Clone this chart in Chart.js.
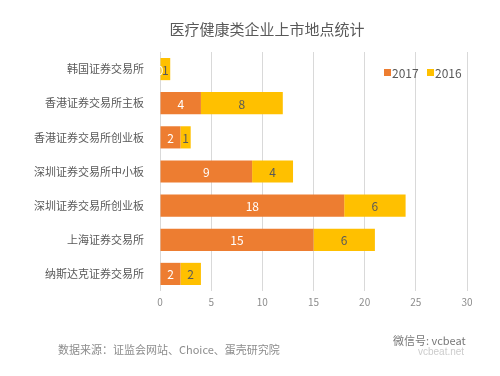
<!DOCTYPE html>
<html>
<head>
<meta charset="utf-8">
<script src="https://cdn.jsdelivr.net/npm/chart.js@4/dist/chart.umd.min.js"></script>
<style>
  html, body { margin: 0; padding: 0; background: #fff; }
  #wrap { position: relative; width: 500px; height: 376px; }
  #title { position: absolute; left: 167px; width: 200px; top: 18px; text-align: center; font: 15px "Noto Sans CJK SC", sans-serif; color: #595959; }
  #source { position: absolute; left: 58px; top: 341px; font: 11px "Noto Sans CJK SC", sans-serif; color: #8c8c8c; }
  #mark { position: absolute; left: 393px; top: 332px; font: 11px "Noto Sans CJK SC", sans-serif; color: #777; }
  #mark2 { position: absolute; left: 418px; top: 346px; font: 10px "Liberation Sans", sans-serif; color: #ccc; }
</style>
</head>
<body>
<div id="wrap">
  <canvas id="bar_market" width="500" height="376"></canvas>
  <div id="title">医疗健康类企业上市地点统计</div>
  <div id="source">数据来源：证监会网站、Choice、蛋壳研究院</div>
  <div id="mark">微信号: vcbeat</div>
  <div id="mark2">vcbeat.net</div>
</div>
<script>
const categories = [
    "韩国证券交易所",
    "香港证券交易所主板",
    "香港证券交易所创业板",
    "深圳证券交易所中小板",
    "深圳证券交易所创业板",
    "上海证券交易所",
    "纳斯达克证券交易所"
];
const values_2017 = [0, 4, 2, 9, 18, 15, 2];
const values_2016 = [1, 8, 1, 4, 6, 6, 2];
const xTicks = [0, 5, 10, 15, 20, 25, 30];

const FONT = '"Noto Sans CJK SC", "Noto Sans", sans-serif';

// value labels in the middle of each bar segment
const barLabels = {
    id: 'barLabels',
    afterDatasetsDraw(chart) {
        const ctx = chart.ctx;
        ctx.save();
        ctx.font = '12px ' + FONT;
        ctx.textAlign = 'center';
        ctx.textBaseline = 'middle';
        chart.data.datasets.forEach((ds, i) => {
            const meta = chart.getDatasetMeta(i);
            meta.data.forEach((bar, j) => {
                ctx.fillStyle = i === 0 ? '#ffffff' : '#595959';
                ctx.fillText(String(ds.data[j]), (bar.x + bar.base) / 2, bar.y + 1);
            });
        });
        ctx.restore();
    }
};

// legend sitting inside the plot, top right
const insideLegend = {
    id: 'insideLegend',
    afterDraw(chart) {
        const ctx = chart.ctx;
        const area = chart.chartArea;
        const offsets = [83, 40];
        ctx.save();
        ctx.font = '12px ' + FONT;
        ctx.textBaseline = 'middle';
        chart.data.datasets.forEach((ds, i) => {
            const x = area.right - offsets[i];
            const y = area.top + 20;
            ctx.fillStyle = ds.backgroundColor;
            ctx.fillRect(x, y - 3, 7, 7);
            ctx.fillStyle = '#595959';
            ctx.fillText(ds.label, x + 8, y + 1);
        });
        ctx.restore();
    }
};

const config_market = {
    type: 'bar',
    data: {
        labels: categories,
        datasets: [
            { label: '2017', data: values_2017, backgroundColor: '#ED7D31' },
            { label: '2016', data: values_2016, backgroundColor: '#FFC000' }
        ]
    },
    options: {
        indexAxis: 'y',
        responsive: false,
        animation: false,
        layout: { padding: { left: 0, right: 33, top: 52, bottom: 65 } },
        datasets: { bar: { categoryPercentage: 1, barPercentage: 0.65 } },
        scales: {
            x: {
                stacked: true,
                min: 0,
                max: 30,
                afterBuildTicks: s => { s.ticks = xTicks.map(v => ({ value: v })); },
                afterFit: s => { s.height = 20; },
                grid: { color: '#d9d9d9', drawTicks: false },
                border: { display: false },
                ticks: { color: '#8c8c8c', padding: 5, font: { size: 10, family: FONT } }
            },
            y: {
                stacked: true,
                afterFit: s => { s.width = 160; },
                grid: { display: false },
                border: { display: false },
                ticks: { color: '#595959', padding: 8, font: { size: 11, family: FONT } }
            }
        },
        plugins: {
            legend: { display: false },
            tooltip: { enabled: false }
        }
    },
    plugins: [barLabels, insideLegend]
};

const ctx_market = document.getElementById('bar_market').getContext('2d');
const myChart_market = new Chart(ctx_market, config_market);
</script>
</body>
</html>
